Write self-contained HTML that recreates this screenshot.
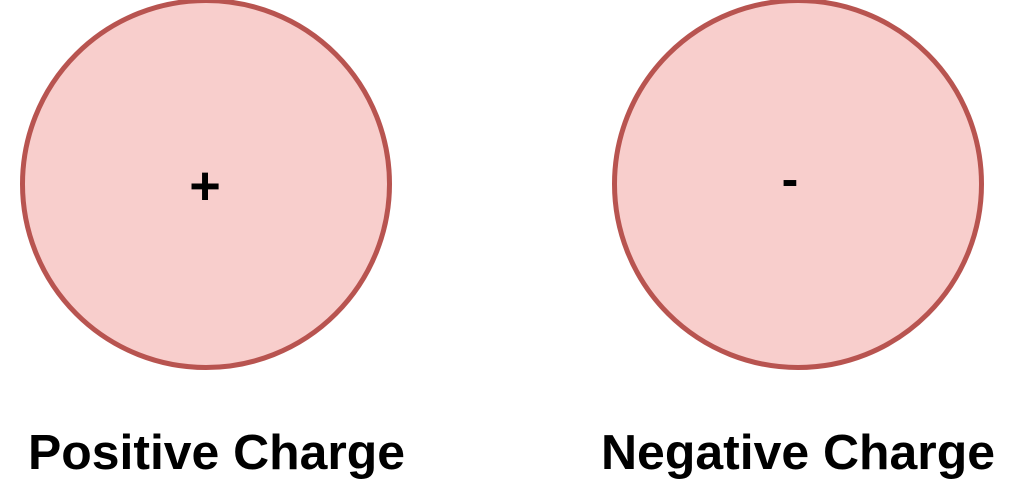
<!DOCTYPE html>
<html><head><meta charset="utf-8"><style>
html,body{margin:0;padding:0;background:#fff;width:1024px;height:487px;overflow:hidden}
svg text{font-family:"Liberation Sans",Arial,sans-serif;font-weight:bold;fill:#000}
</style></head><body>
<svg width="1024" height="487" viewBox="0 0 1024 487">
<circle cx="206" cy="184" r="183.5" fill="#f8cecc" stroke="#b85450" stroke-width="5"/>
<circle cx="798" cy="184" r="183.5" fill="#f8cecc" stroke="#b85450" stroke-width="5"/>
<text x="205" y="204" font-size="54" text-anchor="middle">+</text>
<text x="790" y="196" font-size="50" text-anchor="middle">-</text>
<text x="28" y="469" font-size="49" textLength="377" lengthAdjust="spacingAndGlyphs">Positive Charge</text>
<text x="601" y="469" font-size="49" textLength="394" lengthAdjust="spacingAndGlyphs">Negative Charge</text>
</svg>
</body></html>
